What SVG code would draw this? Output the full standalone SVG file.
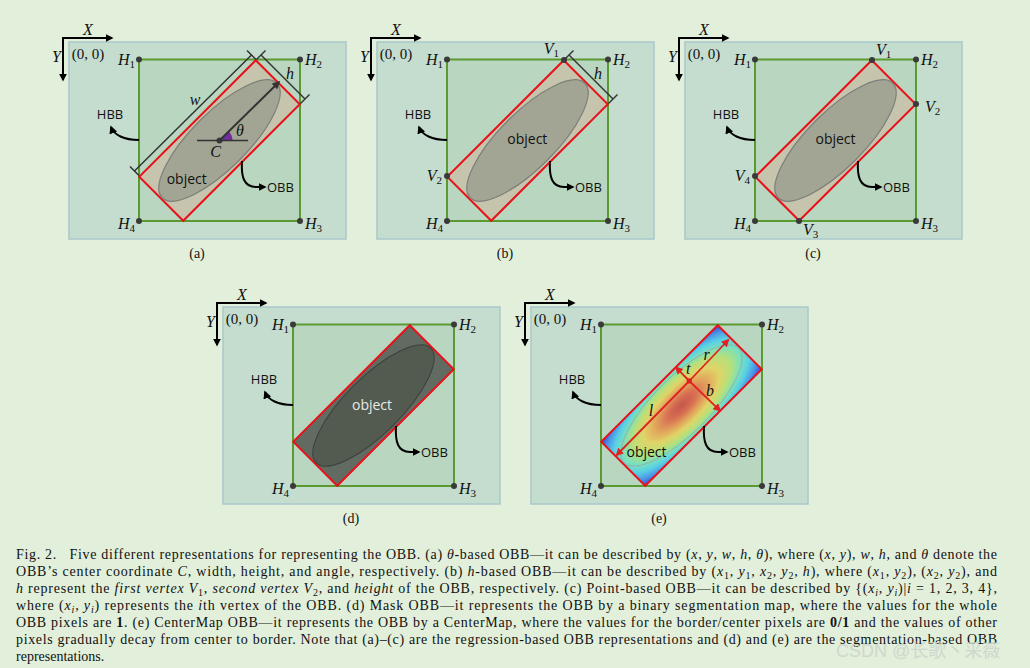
<svg xmlns="http://www.w3.org/2000/svg" xmlns:xlink="http://www.w3.org/1999/xlink" width="1030" height="668" viewBox="0 0 1030 668">
<style>
.bg{fill:#e2efda}
.panel{fill:#c4ddcf;stroke:#a9c8cc;stroke-width:1.5}
.hbb{fill:#b9d7c0;stroke:#5a9a30;stroke-width:2}
.obb{fill:#c7c4ae;stroke:#e8121a;stroke-width:2}
.ell{fill:#a2a593;stroke:#7c7f78;stroke-width:1.2}
.obbd{fill:#616b61;stroke:#e8121a;stroke-width:2}
.elld{fill:#535a50;stroke:#3b413b;stroke-width:1}
.obbe{fill:url(#cmap);stroke:#e8121a;stroke-width:2}
.elle{fill:none;stroke:#a09a98;stroke-width:0.8;opacity:0.8}
.dot{fill:#3a3a3a}
.ax{stroke:#000;stroke-width:2;fill:none;marker-end:url(#ah)}
.cv{stroke:#000;stroke-width:2;fill:none;marker-end:url(#ah)}
.dim{stroke:#333;stroke-width:1.5;fill:none}
.ra{stroke:#e02222;stroke-width:1.8;fill:none;marker-end:url(#rh)}
.mi{font-family:"Liberation Serif",serif;font-style:italic;font-size:16px;fill:#111}
.mr{font-family:"Liberation Serif",serif;font-size:15px;fill:#111}
.sub{font-size:11px;font-style:normal}
.lb{font-family:"Open Sans",sans-serif;font-size:13px;fill:#111}
.obj{font-family:"Open Sans",sans-serif;font-size:14px;fill:#111}
.pl{font-family:"Liberation Serif",serif;font-size:14px;fill:#111}
.cap{font-family:"Liberation Serif",serif;font-size:14px;fill:#111;white-space:pre}
.it{font-style:italic}
.b{font-weight:bold}
.wm{font-family:"Liberation Sans","Noto Sans CJK SC",sans-serif;font-size:18px;fill:#cdd6cd;opacity:0.9}
</style>
<defs>
<marker id="ah" viewBox="0 0 10 10" refX="8" refY="5" markerWidth="4" markerHeight="4" orient="auto"><path d="M0,0 L10,5 L0,10 z" fill="#000"/></marker>
<marker id="ah2" viewBox="0 0 10 10" refX="8" refY="5" markerWidth="4" markerHeight="4" orient="auto"><path d="M0,0 L10,5 L0,10 z" fill="#333"/></marker>
<marker id="rh" viewBox="0 0 10 10" refX="8" refY="5" markerWidth="4.5" markerHeight="4.5" orient="auto"><path d="M0,0 L10,5 L0,10 z" fill="#e02222"/></marker>
<radialGradient id="cmap" cx="0.5" cy="0.5" r="0.72">
<stop offset="0" stop-color="#c4584c"/>
<stop offset="0.15" stop-color="#d86e52"/>
<stop offset="0.3" stop-color="#e2a85c"/>
<stop offset="0.42" stop-color="#e0d468"/>
<stop offset="0.55" stop-color="#b6e07a"/>
<stop offset="0.66" stop-color="#78e0c0"/>
<stop offset="0.76" stop-color="#58cfe6"/>
<stop offset="0.88" stop-color="#4a8fe6"/>
<stop offset="1" stop-color="#3536cf"/>
</radialGradient>
<g id="frame">
<rect class="panel" x="69" y="42" width="277" height="197"/>
<rect class="hbb" x="139" y="59.5" width="161" height="161.5"/>
</g>
<g id="hdots">
<circle class="dot" cx="139" cy="59.5" r="3"/>
<circle class="dot" cx="300" cy="59.5" r="3"/>
<circle class="dot" cx="300" cy="221" r="3"/>
<circle class="dot" cx="139" cy="221" r="3"/>
</g>
<g id="arrows">
<line class="ax" x1="63" y1="38" x2="112" y2="38"/>
<line class="ax" x1="63" y1="37" x2="63" y2="80"/>
<path class="cv" d="M139,140 C124,140 114,135 111,127"/>
<path class="cv" d="M242,161 C241,177 244,187 256,187 L265,187"/>
</g>
</defs>
<rect class="bg" x="0" y="0" width="1030" height="668"/>

<!-- Panel (a) -->
<g id="panel-a">
<use href="#frame"/>
<g transform="translate(219.5,140.5) rotate(-45)">
<rect class="obb" x="-82.4" y="-31.1" width="164.8" height="62.2"/>
<ellipse class="ell" cx="0" cy="0" rx="81" ry="28"/>
</g>
<use href="#hdots"/>
<path d="M219.5,140.5 L232.5,140.5 A13,13 0 0,0 228.7,131.3 Z" fill="#7030a0"/>
<circle class="dot" cx="219.5" cy="140.5" r="3"/>
<text class="mi" x="88" y="35" text-anchor="middle">X</text>
<text class="mi" x="56.5" y="62" text-anchor="middle">Y</text>
<text class="mr" x="88" y="59" text-anchor="middle">(0, 0)</text>
<text class="mi" x="135" y="65" text-anchor="end">H<tspan class="sub" dy="3">1</tspan></text>
<text class="mi" x="305" y="65">H<tspan class="sub" dy="3">2</tspan></text>
<text class="mi" x="305" y="229">H<tspan class="sub" dy="3">3</tspan></text>
<text class="mi" x="135" y="229" text-anchor="end">H<tspan class="sub" dy="3">4</tspan></text>
<text class="mi" x="195" y="105" text-anchor="middle">w</text>
<text class="mi" x="290" y="79" text-anchor="middle">h</text>
<text class="mi" x="240" y="136" text-anchor="middle">θ</text>
<text class="mi" x="215.5" y="157" text-anchor="middle">C</text>
<text class="obj" x="186.7" y="184" text-anchor="middle">object</text>
<text class="lb" x="110" y="119" text-anchor="middle">HBB</text>
<text class="lb" x="267" y="192">OBB</text>
<text class="pl" x="197" y="258" text-anchor="middle">(a)</text>
</g>

<!-- Panel (b) -->
<g id="panel-b" transform="translate(308,0)">
<use href="#frame"/>
<g transform="translate(219.5,140.5) rotate(-45)">
<rect class="obb" x="-82.4" y="-31.1" width="164.8" height="62.2"/>
<ellipse class="ell" cx="0" cy="0" rx="81" ry="28"/>
</g>
<use href="#hdots"/>
<circle class="dot" cx="256" cy="60" r="3"/>
<circle class="dot" cx="139" cy="176" r="3"/>
<text class="mi" x="88" y="35" text-anchor="middle">X</text>
<text class="mi" x="56.5" y="62" text-anchor="middle">Y</text>
<text class="mr" x="88" y="59" text-anchor="middle">(0, 0)</text>
<text class="mi" x="135" y="65" text-anchor="end">H<tspan class="sub" dy="3">1</tspan></text>
<text class="mi" x="305" y="65">H<tspan class="sub" dy="3">2</tspan></text>
<text class="mi" x="305" y="229">H<tspan class="sub" dy="3">3</tspan></text>
<text class="mi" x="135" y="229" text-anchor="end">H<tspan class="sub" dy="3">4</tspan></text>
<text class="mi" x="251" y="54" text-anchor="end">V<tspan class="sub" dy="3">1</tspan></text>
<text class="mi" x="134" y="181" text-anchor="end">V<tspan class="sub" dy="3">2</tspan></text>
<text class="mi" x="290" y="79" text-anchor="middle">h</text>
<text class="obj" x="219.3" y="144" text-anchor="middle">object</text>
<text class="lb" x="110" y="119" text-anchor="middle">HBB</text>
<text class="lb" x="267" y="192">OBB</text>
<text class="pl" x="197" y="258" text-anchor="middle">(b)</text>
</g>

<!-- Panel (c) -->
<g id="panel-c" transform="translate(616,0)">
<use href="#frame"/>
<g transform="translate(219.5,140.5) rotate(-45)">
<rect class="obb" x="-82.4" y="-31.1" width="164.8" height="62.2"/>
<ellipse class="ell" cx="0" cy="0" rx="81" ry="28"/>
</g>
<use href="#hdots"/>
<circle class="dot" cx="256" cy="60" r="3"/>
<circle class="dot" cx="300" cy="104" r="3"/>
<circle class="dot" cx="183" cy="221" r="3"/>
<circle class="dot" cx="139" cy="176" r="3"/>
<text class="mi" x="88" y="35" text-anchor="middle">X</text>
<text class="mi" x="56.5" y="62" text-anchor="middle">Y</text>
<text class="mr" x="88" y="59" text-anchor="middle">(0, 0)</text>
<text class="mi" x="135" y="65" text-anchor="end">H<tspan class="sub" dy="3">1</tspan></text>
<text class="mi" x="305" y="65">H<tspan class="sub" dy="3">2</tspan></text>
<text class="mi" x="305" y="229">H<tspan class="sub" dy="3">3</tspan></text>
<text class="mi" x="135" y="229" text-anchor="end">H<tspan class="sub" dy="3">4</tspan></text>
<text class="mi" x="260" y="55">V<tspan class="sub" dy="3">1</tspan></text>
<text class="mi" x="309" y="112">V<tspan class="sub" dy="3">2</tspan></text>
<text class="mi" x="187" y="235">V<tspan class="sub" dy="3">3</tspan></text>
<text class="mi" x="134" y="181" text-anchor="end">V<tspan class="sub" dy="3">4</tspan></text>
<text class="obj" x="219.5" y="144" text-anchor="middle">object</text>
<text class="lb" x="110" y="119" text-anchor="middle">HBB</text>
<text class="lb" x="267" y="192">OBB</text>
<text class="pl" x="197" y="258" text-anchor="middle">(c)</text>
</g>

<!-- Panel (d) -->
<g id="panel-d" transform="translate(154,265)">
<use href="#frame"/>
<g transform="translate(219.5,140.5) rotate(-45)">
<rect class="obbd" x="-82.4" y="-31.1" width="164.8" height="62.2"/>
<ellipse class="elld" cx="0" cy="0" rx="81" ry="28"/>
</g>
<use href="#hdots"/>
<text class="mi" x="88" y="35" text-anchor="middle">X</text>
<text class="mi" x="56.5" y="62" text-anchor="middle">Y</text>
<text class="mr" x="88" y="59" text-anchor="middle">(0, 0)</text>
<text class="mi" x="135" y="65" text-anchor="end">H<tspan class="sub" dy="3">1</tspan></text>
<text class="mi" x="305" y="65">H<tspan class="sub" dy="3">2</tspan></text>
<text class="mi" x="305" y="229">H<tspan class="sub" dy="3">3</tspan></text>
<text class="mi" x="135" y="229" text-anchor="end">H<tspan class="sub" dy="3">4</tspan></text>
<text class="obj" x="218" y="145" text-anchor="middle" style="fill:#e6ece6">object</text>
<text class="lb" x="110" y="119" text-anchor="middle">HBB</text>
<text class="lb" x="267" y="192">OBB</text>
<text class="pl" x="197" y="258" text-anchor="middle">(d)</text>
</g>

<!-- Panel (e) -->
<g id="panel-e" transform="translate(462,265)">
<use href="#frame"/>
<g transform="translate(219.5,140.5) rotate(-45)">
<rect class="obbe" x="-82.4" y="-31.1" width="164.8" height="62.2"/>
<ellipse class="elle" cx="0" cy="0" rx="81" ry="28"/>
</g>
<use href="#hdots"/>
<rect x="224.8" y="113.5" width="5" height="5" fill="#e01515"/>
<text class="mi" x="88" y="35" text-anchor="middle">X</text>
<text class="mi" x="56.5" y="62" text-anchor="middle">Y</text>
<text class="mr" x="88" y="59" text-anchor="middle">(0, 0)</text>
<text class="mi" x="135" y="65" text-anchor="end">H<tspan class="sub" dy="3">1</tspan></text>
<text class="mi" x="305" y="65">H<tspan class="sub" dy="3">2</tspan></text>
<text class="mi" x="305" y="229">H<tspan class="sub" dy="3">3</tspan></text>
<text class="mi" x="135" y="229" text-anchor="end">H<tspan class="sub" dy="3">4</tspan></text>
<text class="mi" x="244.7" y="95" text-anchor="middle">r</text>
<text class="mi" x="226.3" y="109" text-anchor="middle">t</text>
<text class="mi" x="248" y="130.5" text-anchor="middle">b</text>
<text class="mi" x="189" y="150.5" text-anchor="middle">l</text>
<text class="obj" x="184.5" y="192" text-anchor="middle">object</text>
<text class="lb" x="110" y="119" text-anchor="middle">HBB</text>
<text class="lb" x="267" y="192">OBB</text>
<text class="pl" x="197" y="258" text-anchor="middle">(e)</text>
</g>

<!-- Connectors -->
<g id="connectors">
<g id="conn-a">
<use href="#arrows"/>
<line class="dim" x1="134.5" y1="171" x2="251.5" y2="55"/>
<line class="dim" x1="130" y1="166.5" x2="139" y2="175.5"/>
<line class="dim" x1="247" y1="50.5" x2="256" y2="59.5"/>
<line class="dim" x1="261" y1="55" x2="305" y2="99"/>
<line class="dim" x1="256.5" y1="59.5" x2="265.5" y2="50.5"/>
<line class="dim" x1="300.5" y1="103.5" x2="309.5" y2="94.5"/>
<line class="dim" x1="197" y1="140.5" x2="248" y2="140.5"/>
<line x1="219.5" y1="140.5" x2="279" y2="82" stroke="#333" stroke-width="2" marker-end="url(#ah2)"/>
</g>
<g id="conn-b" transform="translate(308,0)">
<use href="#arrows"/>
<line class="dim" x1="261" y1="55" x2="305" y2="99"/>
<line class="dim" x1="256.5" y1="59.5" x2="265.5" y2="50.5"/>
<line class="dim" x1="300.5" y1="103.5" x2="309.5" y2="94.5"/>
</g>
<g id="conn-c" transform="translate(616,0)">
<use href="#arrows"/>
</g>
<g id="conn-d" transform="translate(154,265)">
<use href="#arrows"/>
</g>
<g id="conn-e" transform="translate(462,265)">
<use href="#arrows"/>
<line class="ra" x1="227.3" y1="116" x2="266.3" y2="75"/>
<line class="ra" x1="227.3" y1="116" x2="154.7" y2="190"/>
<line class="ra" x1="227.3" y1="116" x2="214" y2="102.3"/>
<line class="ra" x1="227.3" y1="116" x2="258" y2="145.7"/>
</g>
</g>

<!-- Caption -->
<g id="caption">
<text class="cap" x="16" y="559" textLength="981" lengthAdjust="spacing">Fig. 2.   Five different representations for representing the OBB. (a) <tspan class="it">θ</tspan>-based OBB—it can be described by (<tspan class="it">x</tspan>, <tspan class="it">y</tspan>, <tspan class="it">w</tspan>, <tspan class="it">h</tspan>, <tspan class="it">θ</tspan>), where (<tspan class="it">x</tspan>, <tspan class="it">y</tspan>), <tspan class="it">w</tspan>, <tspan class="it">h</tspan>, and <tspan class="it">θ</tspan> denote the</text>
<text class="cap" x="16" y="576" textLength="981" lengthAdjust="spacing">OBB’s center coordinate <tspan class="it">C</tspan>, width, height, and angle, respectively. (b) <tspan class="it">h</tspan>-based OBB—it can be described by (<tspan class="it">x</tspan><tspan font-size="10" dy="3">1</tspan><tspan dy="-3">, </tspan><tspan class="it">y</tspan><tspan font-size="10" dy="3">1</tspan><tspan dy="-3">, </tspan><tspan class="it">x</tspan><tspan font-size="10" dy="3">2</tspan><tspan dy="-3">, </tspan><tspan class="it">y</tspan><tspan font-size="10" dy="3">2</tspan><tspan dy="-3">, </tspan><tspan class="it">h</tspan>), where (<tspan class="it">x</tspan><tspan font-size="10" dy="3">1</tspan><tspan dy="-3">, </tspan><tspan class="it">y</tspan><tspan font-size="10" dy="3">2</tspan><tspan dy="-3">), (</tspan><tspan class="it">x</tspan><tspan font-size="10" dy="3">2</tspan><tspan dy="-3">, </tspan><tspan class="it">y</tspan><tspan font-size="10" dy="3">2</tspan><tspan dy="-3">), and</tspan></text>
<text class="cap" x="16" y="593" textLength="981" lengthAdjust="spacing"><tspan class="it">h</tspan> represent the <tspan class="it">first vertex V</tspan><tspan font-size="10" dy="3">1</tspan><tspan dy="-3">, </tspan><tspan class="it">second vertex V</tspan><tspan font-size="10" dy="3">2</tspan><tspan dy="-3">, and </tspan><tspan class="it">height</tspan> of the OBB, respectively. (c) Point-based OBB—it can be described by {(<tspan class="it">x</tspan><tspan font-size="10" class="it" dy="3">i</tspan><tspan dy="-3">, </tspan><tspan class="it">y</tspan><tspan font-size="10" class="it" dy="3">i</tspan><tspan dy="-3">)|</tspan><tspan class="it">i</tspan> = 1, 2, 3, 4},</text>
<text class="cap" x="16" y="610" textLength="981" lengthAdjust="spacing">where (<tspan class="it">x</tspan><tspan font-size="10" class="it" dy="3">i</tspan><tspan dy="-3">, </tspan><tspan class="it">y</tspan><tspan font-size="10" class="it" dy="3">i</tspan><tspan dy="-3">) represents the </tspan><tspan class="it">i</tspan>th vertex of the OBB. (d) Mask OBB—it represents the OBB by a binary segmentation map, where the values for the whole</text>
<text class="cap" x="16" y="627" textLength="981" lengthAdjust="spacing">OBB pixels are <tspan class="b">1</tspan>. (e) CenterMap OBB—it represents the OBB by a CenterMap, where the values for the border/center pixels are <tspan class="b">0/1</tspan> and the values of other</text>
<text class="cap" x="16" y="644" textLength="981" lengthAdjust="spacing">pixels gradually decay from center to border. Note that (a)–(c) are the regression-based OBB representations and (d) and (e) are the segmentation-based OBB</text>
<text class="cap" x="16" y="661">representations.</text>
</g>
<text class="wm" x="836" y="657">CSDN @长歌丶采薇</text>
</svg>
